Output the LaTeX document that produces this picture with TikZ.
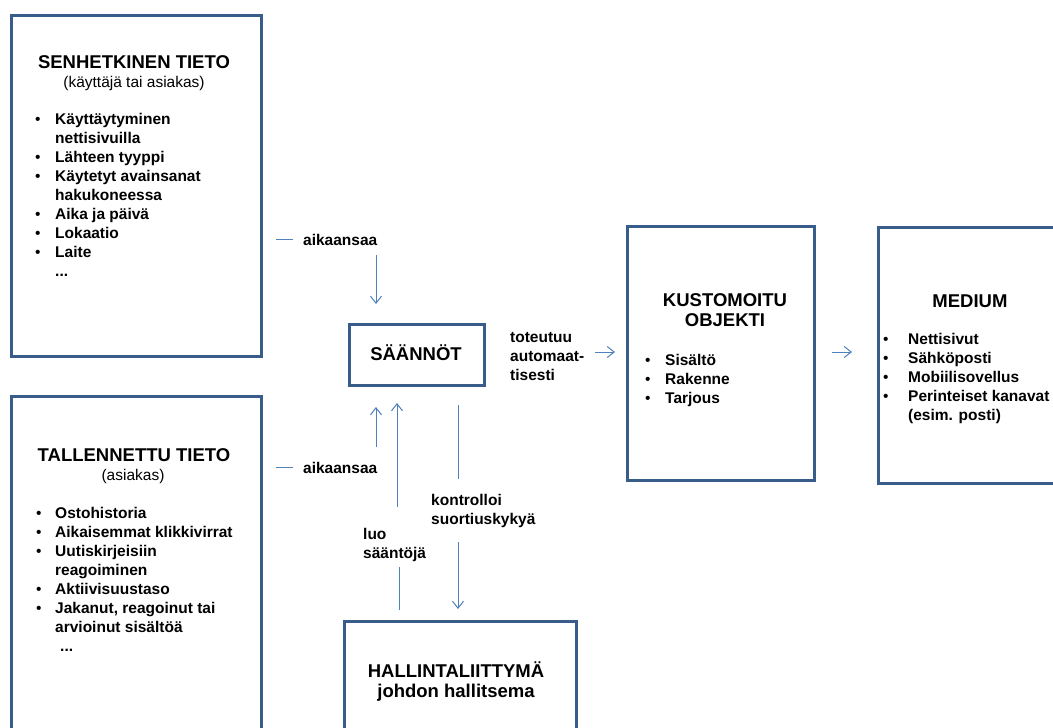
\documentclass[tikz,border=0pt]{standalone}
\usepackage{fontspec}
\setmainfont{Liberation Sans}
\usetikzlibrary{arrows.meta}
\definecolor{boxblue}{HTML}{385D8A}
\definecolor{arrblue}{HTML}{4F81BD}
\newcommand\tabt[2]{\begin{tabular}[t]{@{}#1@{}}#2\end{tabular}}
\newcommand\bul{{\mdseries •}}
\begin{document}
\begin{tikzpicture}[x=1pt,y=-1pt,
 box/.style={draw=boxblue,line width=3pt,anchor=north west,inner sep=0pt},
 ttl/.style={font=\bfseries\fontsize{18.5}{20}\selectfont,inner sep=0pt,anchor=base},
 subt/.style={font=\fontsize{15.5}{19}\selectfont,inner sep=0pt,anchor=base},
 lst/.style={font=\bfseries\fontsize{15.5}{19}\selectfont,inner sep=0pt,anchor=base west},
 conn/.style={draw=arrblue,line width=1pt},
 arr/.style={conn,-{Straight Barb[length=7pt,width=11pt]}},
]
\clip (0,0) rectangle (1053,728);
\fill[white] (0,0) rectangle (1053,728);
% boxes
\node[box,minimum width=250pt,minimum height=341pt] (senh) at (10,14) {};
\node[box,minimum width=250pt,minimum height=360pt] (tall) at (10,395) {};
\node[box,minimum width=135pt,minimum height=61pt] (saan) at (348,323) {};
\node[box,minimum width=232pt,minimum height=130pt] (hall) at (343,620) {};
\node[box,minimum width=187pt,minimum height=254pt] (kust) at (626,225) {};
\node[box,minimum width=200pt,minimum height=256pt] (med) at (877,226) {};
% titles
\node[ttl] (senhT) at (134,68.5) {SENHETKINEN TIETO};
\node[subt] (senhS) at (134,87) {(käyttäjä tai asiakas)};
\node[ttl] (tallT) at (134,461) {TALLENNETTU TIETO};
\node[subt] (tallS) at (133,480) {(asiakas)};
\node[ttl] (saanT) at (416,360) {SÄÄNNÖT};
\node[ttl] (kustT) at (725,306) {\tabt{c}{KUSTOMOITU\\OBJEKTI}};
\node[ttl] (medT) at (970,307) {MEDIUM};
\node[ttl] (hallT) at (456,677) {\tabt{c}{HALLINTALIITTYMÄ\\johdon hallitsema}};
% lists
\node[lst] (senhL) at (35,124) {\tabt{p{20pt}@{}l}{\bul&Käyttäytyminen\\&nettisivuilla\\\bul&Lähteen tyyppi\\\bul&Käytetyt avainsanat\\&hakukoneessa\\\bul&Aika ja päivä\\\bul&Lokaatio\\\bul&Laite\\&...}};
\node[lst] (tallL) at (36,518) {\tabt{p{19pt}@{}l}{\bul&Ostohistoria\\\bul&Aikaisemmat klikkivirrat\\\bul&Uutiskirjeisiin\\&reagoiminen\\\bul&Aktiivisuustaso\\\bul&Jakanut, reagoinut tai\\&arvioinut sisältöä\\&\hspace{5pt}...}};
\node[lst] (kustL) at (645,365) {\tabt{p{20pt}@{}l}{\bul&Sisältö\\\bul&Rakenne\\\bul&Tarjous}};
\node[lst] (medL) at (883,344) {\tabt{p{25pt}@{}l}{\bul&Nettisivut\\\bul&Sähköposti\\\bul&Mobiilisovellus\\\bul&Perinteiset kanavat\\&(esim. posti)}};
% labels
\node[lst] (lab1) at (303,245) {aikaansaa};
\node[lst] (lab2) at (303,473) {aikaansaa};
\node[lst] (labTot) at (510,342) {\tabt{l}{toteutuu\\automaat-\\tisesti}};
\node[lst] (labLuo) at (363,539) {\tabt{l}{luo\\sääntöjä}};
\node[lst] (labKon) at (431,505) {\tabt{l}{kontrolloi\\suortiuskykyä}};
% connector coordinates
\coordinate (d1a) at (276,239); \coordinate (d1b) at (293,239);
\coordinate (d2a) at (276,467); \coordinate (d2b) at (293,467);
\coordinate (a1s) at (376,255); \coordinate (a1e) at (376,304);
\coordinate (a2s) at (376,447); \coordinate (a2e) at (376,407);
\coordinate (a3s) at (397,507); \coordinate (a3e) at (397,403);
\coordinate (l3s) at (399,610); \coordinate (l3e) at (399,567);
\coordinate (k1s) at (458,405); \coordinate (k1e) at (458,479);
\coordinate (k2s) at (458,542); \coordinate (k2e) at (458,609);
\coordinate (r1s) at (595,352); \coordinate (r1e) at (615,352);
\coordinate (r2s) at (832,352); \coordinate (r2e) at (852,352);
% connectors
\draw[conn] (d1a) -- (d1b);
\draw[conn] (d2a) -- (d2b);
\draw[arr] (a1s) -- (a1e);
\draw[arr] (a2s) -- (a2e);
\draw[arr] (a3s) -- (a3e);
\draw[conn] (l3s) -- (l3e);
\draw[conn] (k1s) -- (k1e);
\draw[arr] (k2s) -- (k2e);
\draw[arr] (r1s) -- (r1e);
\draw[arr] (r2s) -- (r2e);
\end{tikzpicture}
\end{document}
